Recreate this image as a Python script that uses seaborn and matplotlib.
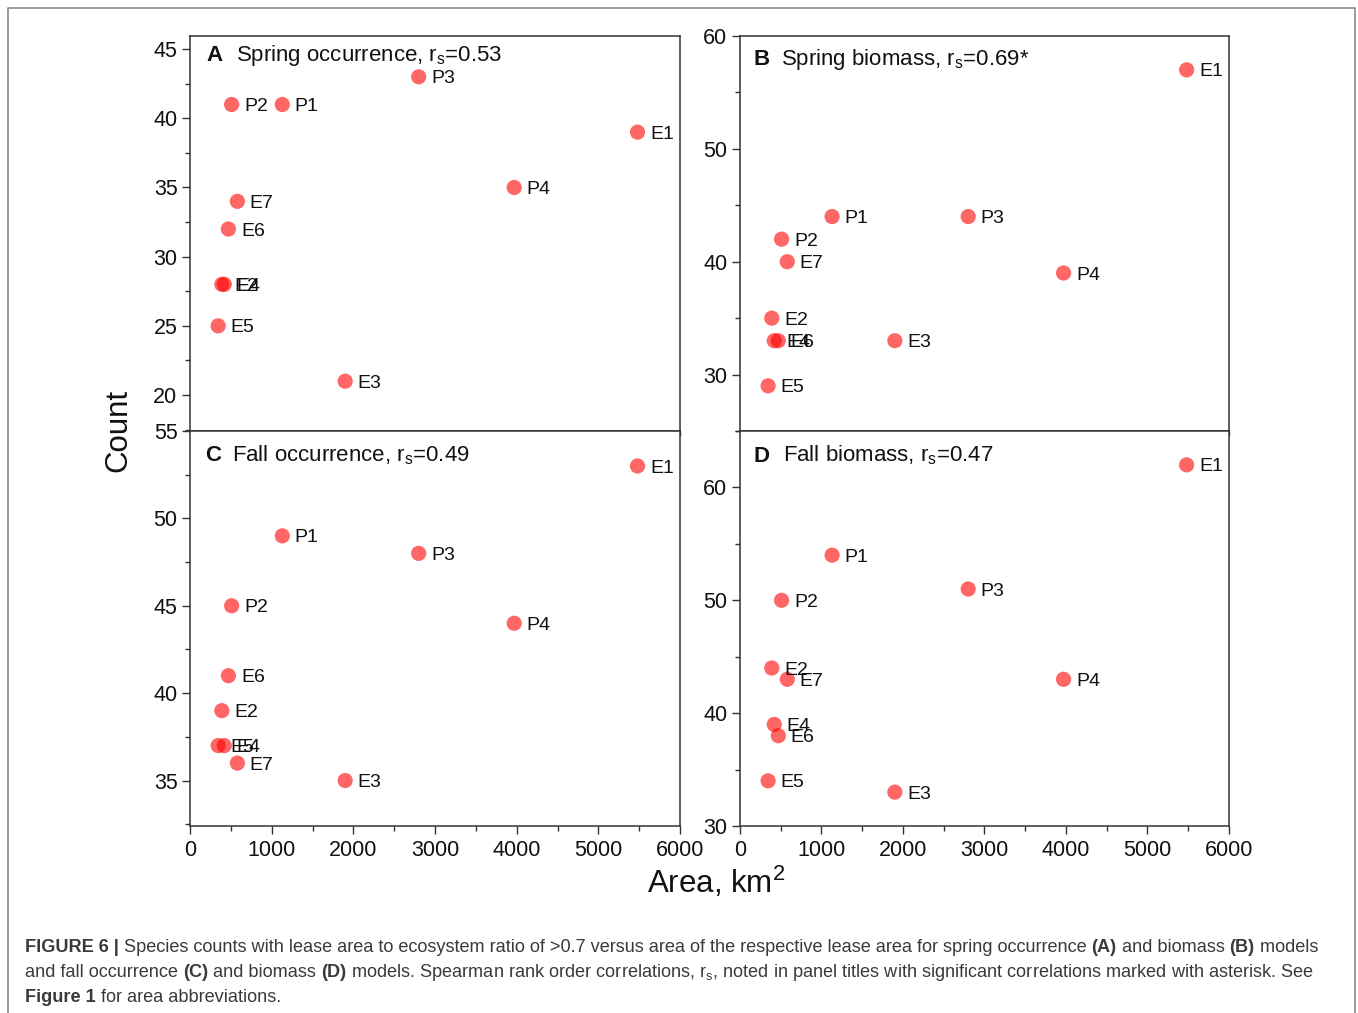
import numpy as np
import pandas as pd
import matplotlib
matplotlib.use("Agg")
import matplotlib.pyplot as plt
import seaborn as sns
from matplotlib.ticker import MultipleLocator
from matplotlib.lines import Line2D

# ---------------- data ----------------
sites = ["E1", "E2", "E3", "E4", "E5", "E6", "E7", "P1", "P2", "P3", "P4"]
area_km2 = [5480, 390, 1900, 420, 345, 470, 580, 1130, 510, 2800, 3970]
spring_occurrence = [39, 28, 21, 28, 25, 32, 34, 41, 41, 43, 35]
spring_biomass = [57, 35, 33, 33, 29, 33, 40, 44, 42, 44, 39]
fall_occurrence = [53, 39, 35, 37, 37, 41, 36, 49, 45, 48, 44]
fall_biomass = [62, 44, 33, 39, 34, 38, 43, 54, 50, 51, 43]

panel_letters = ["A", "B", "C", "D"]
panel_titles = [
    "Spring occurrence, r$_\\mathrm{s}$=0.53",
    "Spring biomass, r$_\\mathrm{s}$=0.69*",
    "Fall occurrence, r$_\\mathrm{s}$=0.49",
    "Fall biomass, r$_\\mathrm{s}$=0.47",
]
x_ticks = [0, 1000, 2000, 3000, 4000, 5000, 6000]

df = pd.DataFrame({
    "site": sites,
    "area": area_km2,
    "spring_occ": spring_occurrence,
    "spring_bio": spring_biomass,
    "fall_occ": fall_occurrence,
    "fall_bio": fall_biomass,
})

# ---------------- style ----------------
sns.set_style("ticks")
FONT = ["Liberation Sans", "DejaVu Sans"]
plt.rcParams["font.family"] = FONT
plt.rcParams["mathtext.fontset"] = "custom"
plt.rcParams["mathtext.rm"] = "Liberation Sans"
plt.rcParams["mathtext.it"] = "Liberation Sans:italic"
plt.rcParams["mathtext.bf"] = "Liberation Sans:bold"
plt.rcParams["text.color"] = "#111111"

W, H = 1358, 1013
fig = plt.figure(figsize=(W / 100, H / 100), dpi=100)
fig.patch.set_facecolor("white")


def px_axes(left, top, right, bottom):
    return fig.add_axes([left / W, 1 - bottom / H, (right - left) / W, (bottom - top) / H])


axA = px_axes(190, 36, 680, 431)
axB = px_axes(740, 36, 1229, 431)
axC = px_axes(190, 431, 680, 826)
axD = px_axes(740, 431, 1229, 826)
axes = [axA, axB, axC, axD]
cols = ["spring_occ", "spring_bio", "fall_occ", "fall_bio"]
ylims = [(17.4, 45.95), (25, 60), (32.4, 55), (30, 65)]
ymaj = [5, 10, 5, 10]
ymin = [2.5, 5, 2.5, 5]
title_y = [0.937, 0.927, 0.924, 0.922]
letter_x = [0.034, 0.027, 0.031, 0.027]
title_x = [0.094, 0.084, 0.086, 0.088]

spine_col = "#333333"
for i, (ax, col) in enumerate(zip(axes, cols)):
    sns.scatterplot(data=df, x="area", y=col, ax=ax, color="#ff0000", alpha=0.6,
                    s=120, edgecolor="none", legend=False, zorder=3)
    for _, r in df.iterrows():
        ax.annotate(r["site"], (r["area"], r[col]), xytext=(9, -1.5),
                    textcoords="offset points", fontsize=14, ha="left", va="center",
                    color="#111111", zorder=4)
    ax.set_xlim(0, 6000)
    ax.set_ylim(*ylims[i])
    ax.set_xticks(x_ticks)
    ax.xaxis.set_minor_locator(MultipleLocator(500))
    ax.yaxis.set_major_locator(MultipleLocator(ymaj[i]))
    ax.yaxis.set_minor_locator(MultipleLocator(ymin[i]))
    ax.set_xlabel("")
    ax.set_ylabel("")
    for s in ax.spines.values():
        s.set_visible(True)
        s.set_color(spine_col)
        s.set_linewidth(1.1)
    ax.tick_params(axis="y", which="major", direction="out", length=6, width=1,
                   color=spine_col, labelsize=15.5, pad=3, labelcolor="#111111")
    ax.tick_params(axis="y", which="minor", direction="out", length=3.5, width=1,
                   color=spine_col)
    if i < 2:
        # ticks on the shared boundary reaching into the lower panel
        ax.tick_params(axis="x", which="both", direction="out", length=3.5, width=1,
                       color=spine_col, labelbottom=False)
    else:
        ax.tick_params(axis="x", which="major", direction="out", length=6, width=1,
                       color=spine_col, labelsize=15.5, pad=4, labelcolor="#111111")
        ax.tick_params(axis="x", which="minor", direction="out", length=3.5, width=1,
                       color=spine_col)
    ax.set_facecolor("white")
    ax.text(letter_x[i], title_y[i], panel_letters[i], transform=ax.transAxes,
            fontsize=16, fontweight="bold", ha="left", va="baseline")
    ax.text(title_x[i], title_y[i], panel_titles[i], transform=ax.transAxes,
            fontsize=16, ha="left", va="baseline")

# axis labels
fig.text(118 / W, 1 - 430 / H, "Count", rotation=90, fontsize=22.5,
         ha="center", va="center")
fig.text(716 / W, 1 - 882 / H, "Area, km$^2$", fontsize=22.5,
         ha="center", va="center")

# outer frame
fig.add_artist(Line2D([8 / W, 8 / W, 1355 / W, 1355 / W],
                      [0, 1 - 8 / H, 1 - 8 / H, 0],
                      transform=fig.transFigure, color="#8a8a8a", lw=1.2))

# ---------------- caption ----------------
renderer = fig.canvas.get_renderer()
CAP_COL = "#3a3a3a"


def text_w(s, bold, fs):
    t1 = fig.text(0, 0, "|" + s + "|", fontsize=fs,
                  fontweight="bold" if bold else "normal")
    t2 = fig.text(0, 0, "||", fontsize=fs, fontweight="bold" if bold else "normal")
    w = t1.get_window_extent(renderer).width - t2.get_window_extent(renderer).width
    t1.remove()
    t2.remove()
    return w


line1 = [("FIGURE 6 |", True),
         (" Species counts with lease area to ecosystem ratio of >0.7 versus area of the "
          "respective lease area for spring occurrence ", False),
         ("(A)", True), (" and biomass ", False), ("(B)", True), (" models", False)]
line2 = [("and fall occurrence ", False), ("(C)", True), (" and biomass ", False),
         ("(D)", True),
         (" models. Spearman rank order correlations, r$_\\mathrm{s}$, noted in panel "
          "titles with significant correlations marked with asterisk. See", False)]
line3 = [("Figure 1", True), (" for area abbreviations.", False)]

base_fs = 12.0
w1 = sum(text_w(s, b, base_fs) for s, b in line1)
cap_fs = base_fs * (1297.0 / w1)


def draw_line(pieces, x0, ybase, fs):
    x = x0
    for s, b in pieces:
        fig.text(x / W, 1 - ybase / H, s, fontsize=fs,
                 fontweight="bold" if b else "normal", color=CAP_COL,
                 ha="left", va="baseline")
        x += text_w(s, b, fs)


draw_line(line1, 25, 952, cap_fs)
draw_line(line2, 25, 977, cap_fs)
draw_line(line3, 25, 1002, cap_fs)

fig.savefig("out.png", dpi=100, facecolor="white")
